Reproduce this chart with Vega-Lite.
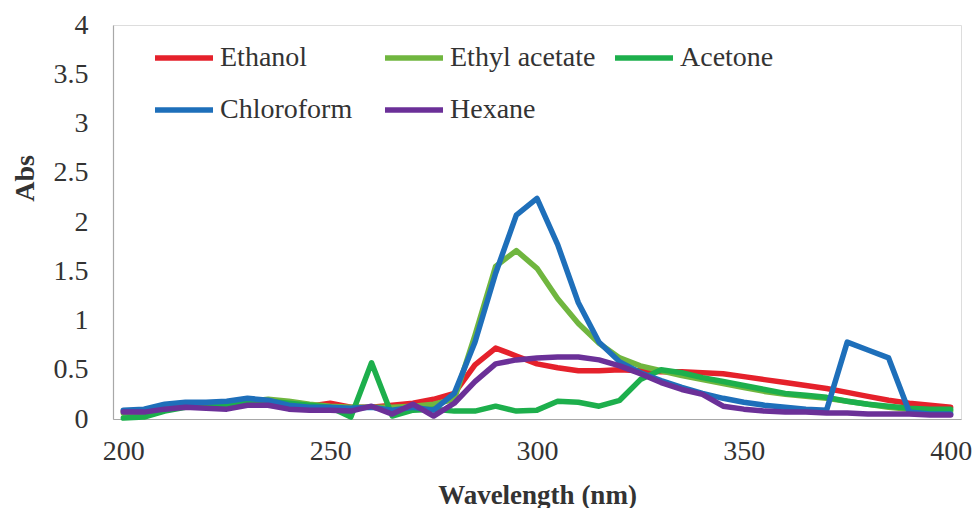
{
  "$schema": "https://vega.github.io/schema/vega-lite/v6.json",
  "width": 848,
  "height": 394,
  "autosize": {"type": "none"},
  "padding": {"left": 113, "top": 25, "right": 13, "bottom": 89},
  "background": "#ffffff",
  "config": {"font": "Liberation Serif, Times New Roman, serif"},
  "datasets": {
    "spectra": [
      {"w":200,"s":"Ethanol","a":0.08},{"w":205,"s":"Ethanol","a":0.08},{"w":210,"s":"Ethanol","a":0.12},{"w":215,"s":"Ethanol","a":0.14},{"w":220,"s":"Ethanol","a":0.15},{"w":225,"s":"Ethanol","a":0.15},{"w":230,"s":"Ethanol","a":0.17},{"w":235,"s":"Ethanol","a":0.18},{"w":240,"s":"Ethanol","a":0.15},{"w":245,"s":"Ethanol","a":0.13},{"w":250,"s":"Ethanol","a":0.16},{"w":255,"s":"Ethanol","a":0.12},{"w":260,"s":"Ethanol","a":0.12},{"w":265,"s":"Ethanol","a":0.14},{"w":270,"s":"Ethanol","a":0.16},{"w":275,"s":"Ethanol","a":0.2},{"w":280,"s":"Ethanol","a":0.26},{"w":285,"s":"Ethanol","a":0.55},{"w":290,"s":"Ethanol","a":0.72},{"w":295,"s":"Ethanol","a":0.64},{"w":300,"s":"Ethanol","a":0.56},{"w":305,"s":"Ethanol","a":0.52},{"w":310,"s":"Ethanol","a":0.49},{"w":315,"s":"Ethanol","a":0.49},{"w":320,"s":"Ethanol","a":0.5},{"w":325,"s":"Ethanol","a":0.49},{"w":330,"s":"Ethanol","a":0.48},{"w":335,"s":"Ethanol","a":0.48},{"w":340,"s":"Ethanol","a":0.47},{"w":345,"s":"Ethanol","a":0.46},{"w":350,"s":"Ethanol","a":0.43},{"w":355,"s":"Ethanol","a":0.4},{"w":360,"s":"Ethanol","a":0.37},{"w":365,"s":"Ethanol","a":0.34},{"w":370,"s":"Ethanol","a":0.31},{"w":375,"s":"Ethanol","a":0.27},{"w":380,"s":"Ethanol","a":0.23},{"w":385,"s":"Ethanol","a":0.19},{"w":390,"s":"Ethanol","a":0.16},{"w":395,"s":"Ethanol","a":0.14},{"w":400,"s":"Ethanol","a":0.12},
      {"w":200,"s":"Ethyl acetate","a":0.06},{"w":205,"s":"Ethyl acetate","a":0.07},{"w":210,"s":"Ethyl acetate","a":0.11},{"w":215,"s":"Ethyl acetate","a":0.13},{"w":220,"s":"Ethyl acetate","a":0.14},{"w":225,"s":"Ethyl acetate","a":0.15},{"w":230,"s":"Ethyl acetate","a":0.18},{"w":235,"s":"Ethyl acetate","a":0.2},{"w":240,"s":"Ethyl acetate","a":0.18},{"w":245,"s":"Ethyl acetate","a":0.15},{"w":250,"s":"Ethyl acetate","a":0.13},{"w":255,"s":"Ethyl acetate","a":0.12},{"w":260,"s":"Ethyl acetate","a":0.12},{"w":265,"s":"Ethyl acetate","a":0.12},{"w":270,"s":"Ethyl acetate","a":0.13},{"w":275,"s":"Ethyl acetate","a":0.15},{"w":280,"s":"Ethyl acetate","a":0.2},{"w":285,"s":"Ethyl acetate","a":0.85},{"w":290,"s":"Ethyl acetate","a":1.55},{"w":295,"s":"Ethyl acetate","a":1.71},{"w":300,"s":"Ethyl acetate","a":1.53},{"w":305,"s":"Ethyl acetate","a":1.22},{"w":310,"s":"Ethyl acetate","a":0.97},{"w":315,"s":"Ethyl acetate","a":0.77},{"w":320,"s":"Ethyl acetate","a":0.62},{"w":325,"s":"Ethyl acetate","a":0.54},{"w":330,"s":"Ethyl acetate","a":0.49},{"w":335,"s":"Ethyl acetate","a":0.44},{"w":340,"s":"Ethyl acetate","a":0.4},{"w":345,"s":"Ethyl acetate","a":0.36},{"w":350,"s":"Ethyl acetate","a":0.32},{"w":355,"s":"Ethyl acetate","a":0.28},{"w":360,"s":"Ethyl acetate","a":0.25},{"w":365,"s":"Ethyl acetate","a":0.23},{"w":370,"s":"Ethyl acetate","a":0.21},{"w":375,"s":"Ethyl acetate","a":0.18},{"w":380,"s":"Ethyl acetate","a":0.15},{"w":385,"s":"Ethyl acetate","a":0.12},{"w":390,"s":"Ethyl acetate","a":0.1},{"w":395,"s":"Ethyl acetate","a":0.09},{"w":400,"s":"Ethyl acetate","a":0.08},
      {"w":200,"s":"Acetone","a":0.01},{"w":205,"s":"Acetone","a":0.02},{"w":210,"s":"Acetone","a":0.08},{"w":215,"s":"Acetone","a":0.12},{"w":220,"s":"Acetone","a":0.13},{"w":225,"s":"Acetone","a":0.14},{"w":230,"s":"Acetone","a":0.16},{"w":235,"s":"Acetone","a":0.18},{"w":240,"s":"Acetone","a":0.16},{"w":245,"s":"Acetone","a":0.14},{"w":250,"s":"Acetone","a":0.12},{"w":255,"s":"Acetone","a":0.02},{"w":260,"s":"Acetone","a":0.57},{"w":265,"s":"Acetone","a":0.03},{"w":270,"s":"Acetone","a":0.09},{"w":275,"s":"Acetone","a":0.1},{"w":280,"s":"Acetone","a":0.08},{"w":285,"s":"Acetone","a":0.08},{"w":290,"s":"Acetone","a":0.13},{"w":295,"s":"Acetone","a":0.08},{"w":300,"s":"Acetone","a":0.09},{"w":305,"s":"Acetone","a":0.18},{"w":310,"s":"Acetone","a":0.17},{"w":315,"s":"Acetone","a":0.13},{"w":320,"s":"Acetone","a":0.19},{"w":325,"s":"Acetone","a":0.4},{"w":330,"s":"Acetone","a":0.5},{"w":335,"s":"Acetone","a":0.47},{"w":340,"s":"Acetone","a":0.42},{"w":345,"s":"Acetone","a":0.38},{"w":350,"s":"Acetone","a":0.34},{"w":355,"s":"Acetone","a":0.3},{"w":360,"s":"Acetone","a":0.26},{"w":365,"s":"Acetone","a":0.24},{"w":370,"s":"Acetone","a":0.22},{"w":375,"s":"Acetone","a":0.18},{"w":380,"s":"Acetone","a":0.15},{"w":385,"s":"Acetone","a":0.13},{"w":390,"s":"Acetone","a":0.11},{"w":395,"s":"Acetone","a":0.1},{"w":400,"s":"Acetone","a":0.1},
      {"w":200,"s":"Chloroform","a":0.09},{"w":205,"s":"Chloroform","a":0.1},{"w":210,"s":"Chloroform","a":0.15},{"w":215,"s":"Chloroform","a":0.17},{"w":220,"s":"Chloroform","a":0.17},{"w":225,"s":"Chloroform","a":0.18},{"w":230,"s":"Chloroform","a":0.21},{"w":235,"s":"Chloroform","a":0.19},{"w":240,"s":"Chloroform","a":0.14},{"w":245,"s":"Chloroform","a":0.12},{"w":250,"s":"Chloroform","a":0.12},{"w":255,"s":"Chloroform","a":0.11},{"w":260,"s":"Chloroform","a":0.12},{"w":265,"s":"Chloroform","a":0.09},{"w":270,"s":"Chloroform","a":0.12},{"w":275,"s":"Chloroform","a":0.09},{"w":280,"s":"Chloroform","a":0.26},{"w":285,"s":"Chloroform","a":0.78},{"w":290,"s":"Chloroform","a":1.48},{"w":295,"s":"Chloroform","a":2.07},{"w":300,"s":"Chloroform","a":2.24},{"w":305,"s":"Chloroform","a":1.77},{"w":310,"s":"Chloroform","a":1.18},{"w":315,"s":"Chloroform","a":0.78},{"w":320,"s":"Chloroform","a":0.58},{"w":325,"s":"Chloroform","a":0.47},{"w":330,"s":"Chloroform","a":0.39},{"w":335,"s":"Chloroform","a":0.32},{"w":340,"s":"Chloroform","a":0.26},{"w":345,"s":"Chloroform","a":0.21},{"w":350,"s":"Chloroform","a":0.17},{"w":355,"s":"Chloroform","a":0.14},{"w":360,"s":"Chloroform","a":0.12},{"w":365,"s":"Chloroform","a":0.1},{"w":370,"s":"Chloroform","a":0.09},{"w":375,"s":"Chloroform","a":0.78},{"w":380,"s":"Chloroform","a":0.7},{"w":385,"s":"Chloroform","a":0.62},{"w":390,"s":"Chloroform","a":0.07},{"w":395,"s":"Chloroform","a":0.05},{"w":400,"s":"Chloroform","a":0.05},
      {"w":200,"s":"Hexane","a":0.07},{"w":205,"s":"Hexane","a":0.07},{"w":210,"s":"Hexane","a":0.1},{"w":215,"s":"Hexane","a":0.12},{"w":220,"s":"Hexane","a":0.11},{"w":225,"s":"Hexane","a":0.1},{"w":230,"s":"Hexane","a":0.14},{"w":235,"s":"Hexane","a":0.14},{"w":240,"s":"Hexane","a":0.1},{"w":245,"s":"Hexane","a":0.09},{"w":250,"s":"Hexane","a":0.09},{"w":255,"s":"Hexane","a":0.08},{"w":260,"s":"Hexane","a":0.13},{"w":265,"s":"Hexane","a":0.05},{"w":270,"s":"Hexane","a":0.15},{"w":275,"s":"Hexane","a":0.03},{"w":280,"s":"Hexane","a":0.16},{"w":285,"s":"Hexane","a":0.38},{"w":290,"s":"Hexane","a":0.56},{"w":295,"s":"Hexane","a":0.6},{"w":300,"s":"Hexane","a":0.62},{"w":305,"s":"Hexane","a":0.63},{"w":310,"s":"Hexane","a":0.63},{"w":315,"s":"Hexane","a":0.6},{"w":320,"s":"Hexane","a":0.54},{"w":325,"s":"Hexane","a":0.46},{"w":330,"s":"Hexane","a":0.37},{"w":335,"s":"Hexane","a":0.3},{"w":340,"s":"Hexane","a":0.25},{"w":345,"s":"Hexane","a":0.13},{"w":350,"s":"Hexane","a":0.1},{"w":355,"s":"Hexane","a":0.08},{"w":360,"s":"Hexane","a":0.07},{"w":365,"s":"Hexane","a":0.07},{"w":370,"s":"Hexane","a":0.06},{"w":375,"s":"Hexane","a":0.06},{"w":380,"s":"Hexane","a":0.05},{"w":385,"s":"Hexane","a":0.05},{"w":390,"s":"Hexane","a":0.05},{"w":395,"s":"Hexane","a":0.04},{"w":400,"s":"Hexane","a":0.04}
    ]
  },
  "data": {"name": "spectra"},
  "mark": {"type": "line", "strokeWidth": 5.5, "strokeJoin": "round", "strokeCap": "round"},
  "encoding": {
    "x": {
      "field": "w", "type": "quantitative",
      "scale": {"domain": [197.5, 402.5], "nice": false, "zero": false},
      "axis": {
        "title": "Wavelength (nm)",
        "values": [200, 250, 300, 350, 400],
        "ticks": false, "grid": false,
        "domainColor": "#a8a8a8", "domainWidth": 1.2,
        "labelFont": "Liberation Serif, Times New Roman, serif", "labelFontSize": 28, "labelColor": "#333333",
        "labelPadding": 18, "labelFlush": false,
        "titleFont": "Liberation Serif, Times New Roman, serif", "titleFontSize": 27, "titleFontWeight": "bold", "titleColor": "#333333",
        "titleBaseline": "alphabetic", "titleY": 84, "titleX": 424
      }
    },
    "y": {
      "field": "a", "type": "quantitative",
      "scale": {"domain": [0, 4], "nice": false},
      "axis": {
        "title": "Abs",
        "values": [0, 0.5, 1, 1.5, 2, 2.5, 3, 3.5, 4],
        "format": "~g",
        "ticks": false, "grid": false,
        "domainColor": "#a8a8a8", "domainWidth": 1.2,
        "labelFont": "Liberation Serif, Times New Roman, serif", "labelFontSize": 28, "labelColor": "#333333",
        "labelPadding": 25, "labelFlush": false,
        "titleFont": "Liberation Serif, Times New Roman, serif", "titleFontSize": 28, "titleFontWeight": "bold", "titleColor": "#333333",
        "titleAngle": -90, "titleBaseline": "alphabetic", "titleAlign": "center",
        "titleX": -80, "titleY": 153
      }
    },
    "color": {
      "field": "s", "type": "nominal",
      "scale": {
        "domain": ["Ethanol", "Ethyl acetate", "Acetone", "Chloroform", "Hexane"],
        "range": ["#E5212B", "#70B63F", "#1DAF4C", "#1E6FBA", "#6B3098"]
      },
      "legend": {
        "title": null,
        "orient": "none",
        "legendX": 39,
        "legendY": 1,
        "direction": "horizontal",
        "columns": 3,
        "gridAlign": "all",
        "padding": 0,
        "symbolType": "stroke",
        "symbolSize": 3364,
        "symbolStrokeWidth": 5.5,
        "labelFont": "Liberation Serif, Times New Roman, serif",
        "labelFontSize": 28,
        "labelColor": "#333333",
        "labelOffset": 4,
        "labelLimit": 400,
        "columnPadding": 8,
        "rowPadding": 6
      }
    }
  }
}
